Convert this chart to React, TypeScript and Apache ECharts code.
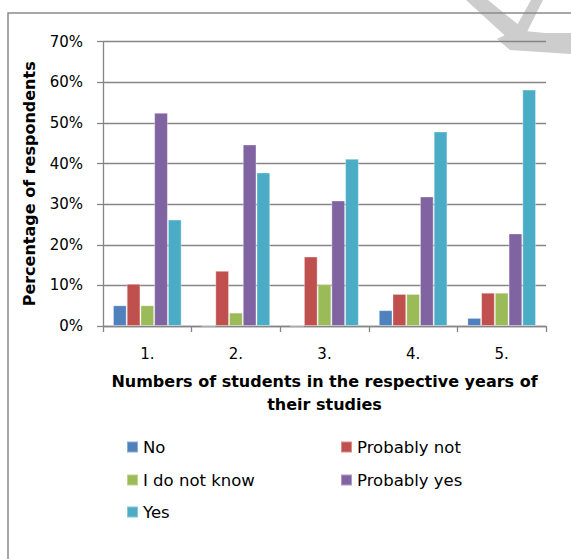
import React, { useEffect, useRef } from "react";
import * as echarts from "echarts";

const categories = ["1.", "2.", "3.", "4.", "5."];
const seriesNames = ["No", "Probably not", "I do not know", "Probably yes", "Yes"];
const noValues = [5.1, 0, 0, 3.9, 2.0];
const probablyNotValues = [10.4, 13.6, 17.1, 7.9, 8.2];
const dontKnowValues = [5.1, 3.3, 10.3, 7.9, 8.2];
const probablyYesValues = [52.5, 44.7, 30.9, 31.9, 22.8];
const yesValues = [26.2, 37.8, 41.2, 47.9, 58.2];
const seriesValues = [noValues, probablyNotValues, dontKnowValues, probablyYesValues, yesValues];
const colors = ["#4F81BD", "#C0504D", "#9BBB59", "#8064A2", "#4BACC6"];
const yTicks = [0, 10, 20, 30, 40, 50, 60, 70];

const legendPos = [
  { left: 126, top: 437 },
  { left: 340, top: 437 },
  { left: 126, top: 470 },
  { left: 340, top: 470 },
  { left: 126, top: 502 },
];

const FONT = "'DejaVu Sans', 'Noto Sans', sans-serif";

export default function App() {
  const ref = useRef<HTMLDivElement>(null);
  useEffect(() => {
    if (!ref.current) return;
    const chart = echarts.init(ref.current, undefined, { renderer: "svg" });
    const gray = "#868686";
    const wm = "#cdcdcd";
    chart.setOption({
      animation: false,
      backgroundColor: "#ffffff",
      textStyle: { fontFamily: FONT },
      graphic: {
        z: -10,
        zlevel: -1,
        elements: [
          {
            type: "polygon",
            z: -10,
            zlevel: -1,
            shape: { points: [[466, 0], [488, 0], [526, 31], [512, 42]] },
            style: { fill: wm },
          },
          {
            type: "polygon",
            z: -10,
            zlevel: -1,
            shape: { points: [[531, 0], [543, 0], [525, 36], [511, 36]] },
            style: { fill: wm },
          },
          {
            type: "polygon",
            z: -10,
            zlevel: -1,
            shape: { points: [[497, 39], [515, 30], [545, 33], [571, 33], [571, 54], [540, 52], [510, 50]] },
            style: { fill: wm },
          },
          {
            type: "rect",
            z: -5,
            zlevel: -1,
            shape: { x: 8, y: 13, width: 620, height: 620 },
            style: { fill: "none", stroke: "#8a8a8a", lineWidth: 1.5 },
          },
        ],
      },
      legend: seriesNames.map((n, i) => ({
        data: [n],
        left: legendPos[i].left,
        top: legendPos[i].top,
        padding: 0,
        itemWidth: 11,
        itemHeight: 11,
        icon: "rect",
        selectedMode: false,
        textStyle: { fontFamily: FONT, fontSize: 16.5, color: "#000", lineHeight: 20 },
      })),
      grid: { left: 103, top: 41.7, right: 25, bottom: 233, containLabel: false },
      xAxis: {
        type: "category",
        data: categories,
        axisLine: { lineStyle: { color: gray, width: 1.3 } },
        axisTick: { show: true, length: 6, lineStyle: { color: gray, width: 1.3 } },
        axisLabel: { margin: 20, fontSize: 15, color: "#000", fontFamily: FONT },
        name: "Numbers of students in the respective years of\ntheir studies",
        nameLocation: "middle",
        nameGap: 44,
        nameTextStyle: { fontSize: 16, fontWeight: "bold", color: "#000", lineHeight: 23, fontFamily: FONT },
      },
      yAxis: {
        type: "value",
        min: 0,
        max: 70,
        interval: 10,
        axisLine: { show: true, lineStyle: { color: gray, width: 1.3 } },
        axisTick: { show: true, length: 6, lineStyle: { color: gray, width: 1.3 } },
        splitLine: { lineStyle: { color: gray, width: 1.3 } },
        axisLabel: {
          margin: 20,
          fontSize: 15,
          color: "#000",
          fontFamily: FONT,
          formatter: (v: number) => (yTicks.includes(v) ? v + "%" : ""),
        },
        name: "Percentage of respondents",
        nameLocation: "middle",
        nameGap: 66,
        nameTextStyle: { fontSize: 16, fontWeight: "bold", color: "#000", fontFamily: FONT },
      },
      series: seriesNames.map((n, i) => ({
        name: n,
        type: "bar",
        data: seriesValues[i],
        barGap: "0%",
        barCategoryGap: "22.5%",
        itemStyle: { color: colors[i], borderColor: "rgba(255,255,255,0.35)", borderWidth: 1 },
      })),
    });
    return () => chart.dispose();
  }, []);
  return <div ref={ref} style={{ width: 571, height: 559, position: "absolute", left: 0, top: 0 }} />;
}
